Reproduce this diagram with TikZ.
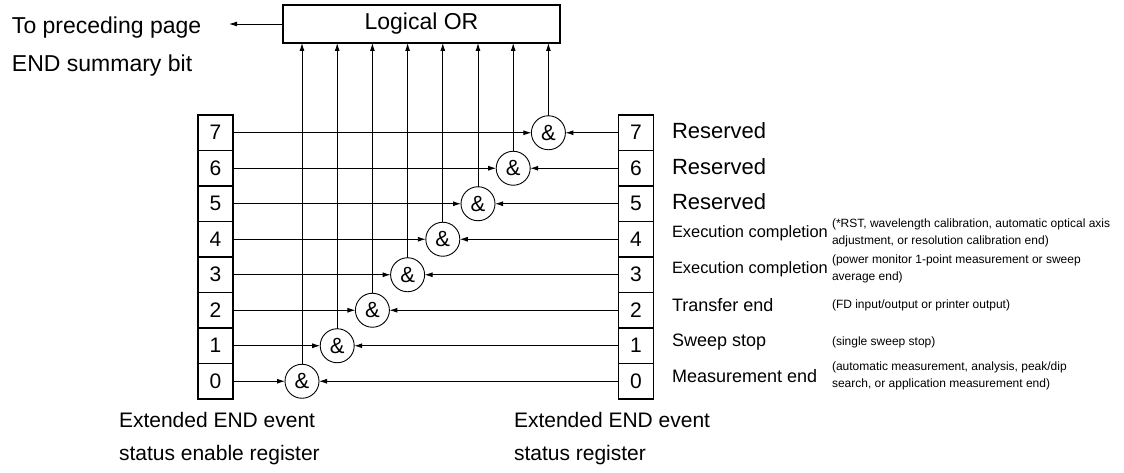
\documentclass[tikz,border=0pt]{standalone}
\usepackage{fontspec}
\setmainfont{Liberation Sans}
\usetikzlibrary{arrows.meta}
\begin{document}
\begin{tikzpicture}[x=1pt,y=-1pt,
  every node/.style={inner sep=0pt, outer sep=0pt},
  cell/.style={draw, line width=1.3pt, minimum width=35pt, minimum height=35.5pt, font=\fontsize{21}{21}\selectfont},
  andgate/.style={draw, circle, line width=0.9pt, minimum size=34pt, font=\fontsize{22}{22}\selectfont},
  orbox/.style={draw, line width=1.3pt, minimum width=277pt, minimum height=38pt, font=\fontsize{23}{27}\selectfont},
  conn/.style={line width=0.9pt, -{Latex[length=8pt,width=5pt]}},
  bigtxt/.style={anchor=west, font=\fontsize{23}{27}\selectfont},
  bottxt/.style={anchor=west, font=\fontsize{21}{25}\selectfont},
  rsv/.style={anchor=west, font=\fontsize{22}{26}\selectfont},
  exec/.style={anchor=west, font=\fontsize{16.4}{20}\selectfont},
  evt/.style={anchor=west, font=\fontsize{18}{22}\selectfont},
  note/.style={anchor=west, align=left, font=\fontsize{12}{17}\selectfont}
]
\useasboundingbox (0,0) rectangle (1124,473);

\node[orbox] (OR) at (421.5,24) {Logical OR};
\coordinate (out) at (229,24);
\draw[conn] (OR.west) -- (out);
\node[bigtxt] (t1) at (12,28) {To preceding page};
\node[bigtxt] (t2) at (12,66) {END summary bit};

\foreach \k in {0,...,7}{
  \pgfmathsetmacro\yy{381.25-35.5*\k}
  \pgfmathsetmacro\xx{302+35.2*\k}
  \node[cell] (L\k) at (215.5,\yy) {\k};
  \node[cell] (R\k) at (636,\yy) {\k};
  \node[andgate] (A\k) at (\xx,\yy) {\&};
  \draw[conn] (L\k) -- (A\k);
  \draw[conn] (R\k) -- (A\k);
  \draw[conn] (A\k) -- (A\k |- OR.south);
}

\node[rsv] (l7) at (672,131) {Reserved};
\node[rsv] (l6) at (672,166.5) {Reserved};
\node[rsv] (l5) at (672,202) {Reserved};
\node[exec] (l4) at (672,233) {Execution completion};
\node[note] (n4) at (832,233) {(*RST, wavelength calibration, automatic optical axis\\adjustment, or resolution calibration end)};
\node[exec] (l3) at (672,269) {Execution completion};
\node[note] (n3) at (832,269) {(power monitor 1-point measurement or sweep\\average end)};
\node[evt] (l2) at (672,305) {Transfer end};
\node[note] (n2) at (832,305) {(FD input/output or printer output)};
\node[evt] (l1) at (672,342) {Sweep stop};
\node[note] (n1) at (832,342) {(single sweep stop)};
\node[evt] (l0) at (672,376) {Measurement end};
\node[note] (n0) at (832,376) {(automatic measurement, analysis, peak/dip\\search, or application measurement end)};

\node[bottxt] (b1) at (119,420) {Extended END event};
\node[bottxt] (b2) at (119,455) {status enable register};
\node[bottxt] (b3) at (514,420) {Extended END event};
\node[bottxt] (b4) at (514,455) {status register};
\end{tikzpicture}
\end{document}
